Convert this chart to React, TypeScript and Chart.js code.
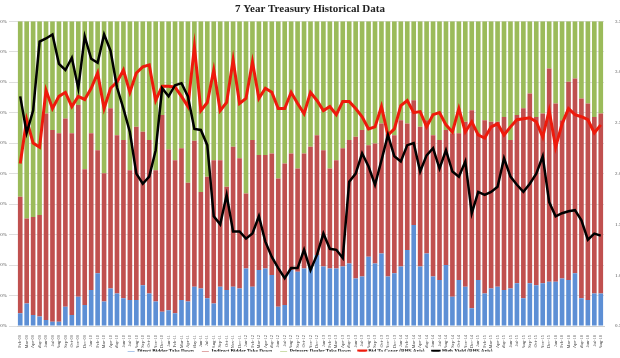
import { useEffect, useRef } from 'react';
import { Chart, registerables } from 'chart.js';
Chart.register(...registerables);

const labels = [
  'Feb-09','Mar-09','Apr-09','May-09','Jun-09','Jul-09','Aug-09','Sep-09','Oct-09','Nov-09','Dec-09',
  'Jan-10','Feb-10','Mar-10','Apr-10','May-10','Jun-10','Jul-10','Aug-10','Sep-10','Oct-10','Nov-10','Dec-10',
  'Jan-11','Feb-11','Mar-11','Apr-11','May-11','Jun-11','Jul-11','Aug-11','Sep-11','Oct-11','Nov-11','Dec-11',
  'Jan-12','Feb-12','Mar-12','Apr-12','May-12','Jun-12','Jul-12','Aug-12','Sep-12','Oct-12','Nov-12','Dec-12',
  'Jan-13','Feb-13','Mar-13','Apr-13','May-13','Jun-13','Jul-13','Aug-13','Sep-13','Oct-13','Nov-13','Dec-13',
  'Jan-14','Feb-14','Mar-14','Apr-14','May-14','Jun-14','Jul-14','Aug-14','Sep-14','Oct-14','Nov-14','Dec-14',
  'Jan-15','Feb-15','Mar-15','Apr-15','May-15','Jun-15','Jul-15','Aug-15','Sep-15','Oct-15','Nov-15','Dec-15',
  'Jan-16','Feb-16','Mar-16','Apr-16','May-16','Jun-16','Jul-16','Aug-16',
];

const directPct = [
  4.2, 7.4, 3.6, 3.1, 2.0, 1.4, 1.4, 6.3, 3.6, 9.6, 6.9, 11.8, 17.3, 8.0, 12.3, 10.7, 9.1, 8.5, 8.5, 13.4, 10.7, 8.0, 4.7, 5.2, 4.2, 8.5, 8.0, 12.9, 12.3, 9.1, 7.4,
  12.9, 11.8, 12.9, 12.3, 18.9, 12.9, 18.4, 18.9, 16.7, 6.3, 6.9, 18.4, 17.8, 18.9, 19.5, 23.3, 19.5, 18.9, 18.9, 19.5, 20.5, 15.6, 16.2, 22.7, 20.5, 23.8, 16.2, 17.3, 19.5, 24.9, 33.1,
  19.5, 23.8, 16.2, 15.1, 20.0, 9.6, 15.1, 12.9, 5.8, 15.1, 10.7, 12.3, 12.9, 11.8, 12.3, 14.0, 9.1, 14.0, 13.4, 14.0, 14.5, 14.5, 15.6, 15.1, 17.3, 9.1, 8.5, 10.7, 10.7,
];

const indirectPct = [
  38.2, 27.9, 32.2, 33.3, 67.7, 62.9, 61.8, 61.8, 59.6, 62.9, 44.5, 51.4, 40.4, 42.1, 59.1, 51.9, 51.9, 42.6, 56.9, 50.3, 50.3, 43.1, 64.5, 52.7, 50.2, 49.8, 39.0, 47.9, 31.7, 39.9, 47.0,
  41.5, 33.9, 45.9, 42.7, 24.6, 48.1, 37.7, 37.2, 39.9, 42.1, 46.4, 38.2, 33.9, 37.7, 39.3, 39.3, 38.2, 32.8, 35.5, 38.8, 40.5, 46.5, 48.1, 36.6, 39.4, 42.6, 47.0, 45.3, 48.0, 41.5, 41.0,
  45.9, 43.7, 46.4, 45.9, 44.3, 53.6, 48.1, 54.1, 65.0, 48.1, 56.8, 54.7, 54.1, 56.8, 48.7, 55.2, 62.3, 62.3, 55.2, 55.7, 70.0, 58.5, 51.9, 65.0, 63.9, 65.5, 64.5, 57.9, 59.0,
];

const dealerPct = [
  57.6, 64.7, 64.2, 63.6, 30.3, 35.7, 36.8, 31.9, 36.8, 27.5, 48.6, 36.8, 42.3, 49.9, 28.6, 37.4, 39.0, 48.9, 34.6, 36.3, 39.0, 48.9, 30.8, 42.1, 45.6, 41.7, 53.0, 39.2, 56.0, 51.0, 45.6,
  45.6, 54.3, 41.2, 45.0, 56.5, 39.0, 43.9, 43.9, 43.4, 51.6, 46.7, 43.4, 48.3, 43.4, 41.2, 37.4, 42.3, 48.3, 45.6, 41.7, 39.0, 37.9, 35.7, 40.7, 40.1, 33.6, 36.8, 37.4, 32.5, 33.6, 25.9,
  34.6, 32.5, 37.4, 39.0, 35.7, 36.8, 36.8, 33.0, 29.2, 36.8, 32.5, 33.0, 33.0, 31.4, 39.0, 30.8, 28.6, 23.7, 31.4, 30.3, 15.5, 27.0, 32.5, 19.9, 18.8, 25.4, 27.0, 31.4, 30.3,
];

const bidToCover = [
  2.10, 2.53, 2.30, 2.26, 2.82, 2.64, 2.76, 2.80, 2.66, 2.76, 2.73, 2.84, 2.99, 2.64, 2.84, 2.90, 3.02, 2.80, 2.99, 3.05, 3.07, 2.72, 2.86, 2.86, 2.85, 2.76, 2.66, 3.25, 2.62, 2.70, 3.02,
  2.62, 2.70, 3.12, 2.69, 2.74, 3.10, 2.74, 2.84, 2.80, 2.64, 2.64, 2.80, 2.69, 2.59, 2.80, 2.72, 2.62, 2.66, 2.58, 2.71, 2.71, 2.64, 2.56, 2.44, 2.46, 2.66, 2.38, 2.44, 2.67, 2.72, 2.60,
  2.61, 2.46, 2.58, 2.60, 2.48, 2.41, 2.64, 2.41, 2.51, 2.38, 2.35, 2.46, 2.49, 2.38, 2.46, 2.53, 2.54, 2.55, 2.51, 2.36, 2.62, 2.26, 2.49, 2.64, 2.58, 2.56, 2.53, 2.40, 2.48,
];

const highYield = [
  2.76, 2.40, 2.62, 3.30, 3.33, 3.37, 3.08, 3.02, 3.14, 2.84, 3.35, 3.13, 3.09, 3.37, 3.21, 2.85, 2.64, 2.41, 2.00, 1.90, 1.97, 2.23, 2.84, 2.76, 2.87, 2.89, 2.76, 2.44, 2.43, 2.28, 1.58,
  1.50, 1.79, 1.43, 1.43, 1.36, 1.41, 1.58, 1.33, 1.18, 1.07, 0.97, 1.07, 1.07, 1.25, 1.05, 1.20, 1.41, 1.26, 1.25, 1.17, 1.92, 2.00, 2.20, 2.07, 1.89, 2.13, 2.38, 2.17, 2.12, 2.28, 2.30,
  2.02, 2.18, 2.25, 2.05, 2.23, 2.02, 1.97, 2.12, 1.61, 1.82, 1.79, 1.82, 1.87, 2.15, 1.97, 1.89, 1.82, 1.90, 2.00, 2.17, 1.72, 1.58, 1.61, 1.63, 1.64, 1.54, 1.35, 1.41, 1.39,
];

const SERIF = "'Liberation Serif', 'Times New Roman', serif";

const legendFit = {
  id: 'legendFit',
  beforeLayout(chart: any) {
    const lg = chart.legend;
    if (lg && !lg.__patched) {
      const f = lg.fit;
      lg.fit = function (this: any) {
        f.call(this);
        this.height = 10;
      };
      lg.__patched = true;
    }
  },
  afterLayout(chart: any) {
    const lg = chart.legend;
    if (lg) {
      lg.top = 341.5;
      lg.bottom = 351.5;
    }
  },
};

export default function App() {
  const ref = useRef<HTMLCanvasElement>(null);
  useEffect(() => {
    const barCommon = { type: 'bar' as const, borderWidth: 0, yAxisID: 'y', stack: 's', barPercentage: 0.72, categoryPercentage: 1, order: 3 };
    const chart = new Chart(ref.current!, {
      type: 'bar',
      data: {
        labels,
        datasets: [
          { ...barCommon, label: 'Direct Bidder Take Down', data: directPct, backgroundColor: '#5d8fd5' },
          { ...barCommon, label: 'Indirect Bidder Take Down', data: indirectPct, backgroundColor: '#c0504f' },
          { ...barCommon, label: 'Primary Dealer Take Down', data: dealerPct, backgroundColor: '#9bbb5a' },
          { type: 'line', label: 'Bid To Cover (RHS Axis)', data: bidToCover, borderColor: '#ee1a0c', backgroundColor: '#ee1a0c', borderWidth: 3, pointRadius: 0, tension: 0, yAxisID: 'y1', order: 2 },
          { type: 'line', label: 'High Yield (RHS Axis)', data: highYield, borderColor: '#000000', backgroundColor: '#000000', borderWidth: 2.5, pointRadius: 0, tension: 0, yAxisID: 'y1', order: 1 },
        ] as any,
      },
      options: {
        responsive: false,
        animation: false,
        devicePixelRatio: 1,
        layout: { padding: { left: 0, right: 0, top: 0, bottom: 0 } },
        plugins: {
          title: {
            display: true,
            text: '7 Year Treasury Historical Data',
            color: '#222',
            font: { family: SERIF, size: 11, weight: 'bold' },
            padding: { top: 3, bottom: 5 },
          },
          legend: {
            position: 'bottom',
            labels: {
              color: '#111',
              font: { family: SERIF, size: 5.2, weight: 'bold' },
              boxWidth: 7,
              boxHeight: 2,
              padding: 8,
              sort: (a: any, b: any) => a.datasetIndex - b.datasetIndex,
            },
          },
          tooltip: { enabled: false },
        },
        scales: {
          x: {
            stacked: true,
            grid: { display: false },
            border: { color: '#d0d0d0' },
            ticks: { autoSkip: false, maxRotation: 90, minRotation: 90, color: '#444', font: { family: SERIF, size: 4.5 }, padding: 1 },
            afterFit: (s: any) => { s.height = 22; },
          },
          y: {
            stacked: true,
            min: 0,
            max: 100,
            grid: { color: '#dedede' },
            border: { display: false },
            ticks: { stepSize: 10, color: '#555', font: { family: SERIF, size: 5 }, padding: 2, callback: (v: any) => v + '%' },
            afterFit: (s: any) => { s.width = 17; },
          },
          y1: {
            position: 'right',
            min: 0.5,
            max: 3.5,
            grid: { display: false },
            border: { display: false },
            ticks: { stepSize: 0.5, color: '#555', font: { family: SERIF, size: 5 }, padding: 3, callback: (v: any) => Number(v).toFixed(2) },
            afterFit: (s: any) => { s.width = 16; },
          },
        },
      } as any,
      plugins: [legendFit],
    });
    return () => chart.destroy();
  }, []);
  return (
    <div style={{ position: 'absolute', left: 0, top: 0, width: 620, height: 358, background: '#fff' }}>
      <canvas ref={ref} width={620} height={358} style={{ display: 'block' }} />
    </div>
  );
}
